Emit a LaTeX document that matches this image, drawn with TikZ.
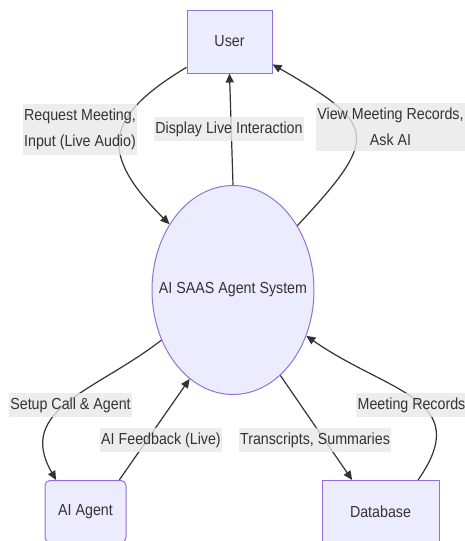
\documentclass[tikz,border=0pt]{standalone}
\usepackage{fontspec}
\setmainfont[FakeStretch=0.89]{Liberation Sans}
\usetikzlibrary{arrows.meta, shapes.geometric}
\definecolor{nodefill}{HTML}{ECECFF}
\definecolor{nodeline}{HTML}{9370DB}
\definecolor{edgeline}{HTML}{333333}
\definecolor{labelbg}{HTML}{E8E8E8}

\begin{document}
\begin{tikzpicture}[
        x=1pt, y=1pt,
        block/.style={
            rectangle,
            draw=nodeline,
            fill=nodefill,
            line width=1pt,
            text=edgeline,
            minimum height=62pt,
            font=\fontsize{16}{26}\selectfont
        },
        system/.style={
            ellipse,
            draw=nodeline,
            fill=nodefill,
            line width=1pt,
            text=edgeline,
            inner sep=0pt,
            minimum width=162pt,
            minimum height=209pt,
            font=\fontsize{16}{26}\selectfont
        },
        arrow/.style={
            -{Triangle[length=9pt, width=8pt]},
            draw=edgeline,
            line width=1.2pt
        },
        lbl/.style={
            fill=labelbg,
            fill opacity=0.8,
            text opacity=1,
            text=edgeline,
            align=center,
            inner xsep=1.5pt,
            inner ysep=5pt,
            font=\fontsize{16}{26}\selectfont
        }
    ]
        \useasboundingbox (0,0) rectangle (464,-541);

        \node[block, minimum width=85pt, minimum height=63pt] (user) at (229.5,-41.5) {User};
        \node[system] (sys) at (233,-290) {\makebox[0pt]{AI SAAS Agent System}};
        \node[block, rounded corners=5pt, minimum width=81pt] (agent) at (85.5,-511.5) {AI Agent};
        \node[block, minimum width=117pt] (db) at (380.5,-511.5) {Database};

        \draw[arrow] (user.211) to[out=211, in=135, looseness=1.6] (sys.134);
        \draw[arrow] (sys.north) -- (user.south);
        \draw[arrow] (sys.45) to[out=47, in=-30, looseness=1.9] (user.-28);
        \draw[arrow] (sys.215) to[out=218, in=120, looseness=1.2] (agent.133);
        \draw[arrow] (agent.43) -- (sys.244);
        \draw[arrow] (sys.-61) -- (db.132);
        \draw[arrow] (db.40) to[out=55, in=-35, looseness=1.4] (sys.-32);

        \node[lbl] (reqlabel) at (80,-129.5) {Request Meeting,\\Input (Live Audio)};
        \node[lbl] (displabel) at (229,-129) {Display Live Interaction};
        \node[lbl] (viewlabel) at (390.5,-127) {View Meeting Records,\\Ask AI};
        \node[lbl] (setuplabel) at (70.5,-405) {Setup Call \& Agent};
        \node[lbl] (fblabel) at (161,-440) {AI Feedback (Live)};
        \node[lbl] (translabel) at (315,-440) {Transcripts, Summaries};
        \node[lbl] (mrlabel) at (411.5,-405) {Meeting Records};

    \end{tikzpicture}
\end{document}
